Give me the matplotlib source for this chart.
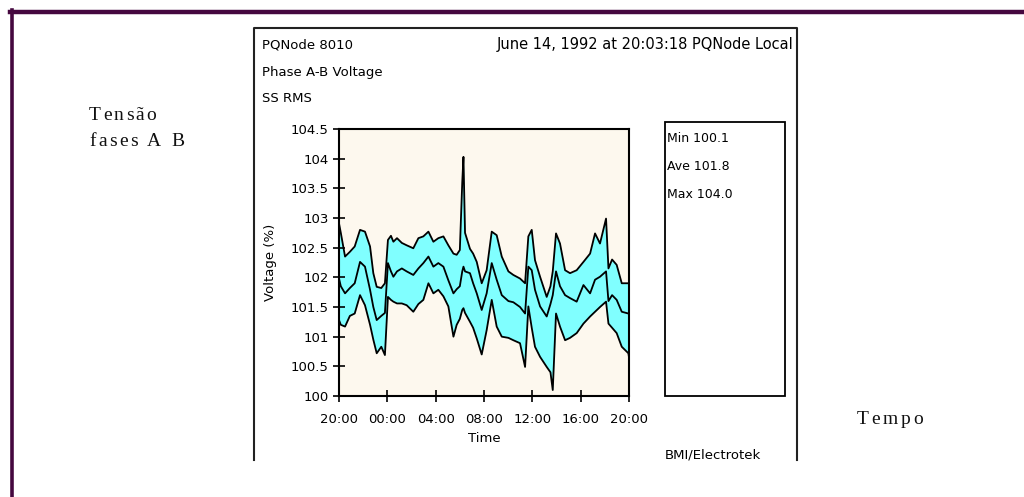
import matplotlib
matplotlib.use("Agg")
import matplotlib.pyplot as plt
from matplotlib.lines import Line2D
from matplotlib.patches import Rectangle
from matplotlib.font_manager import findfont, FontProperties
from matplotlib.ft2font import FT2Font

# ---- data (hours since 20:00, voltage in %) ----
hours = [0.0, 0.15, 0.5, 0.9, 1.3, 1.74, 2.15, 2.57, 2.84, 3.12, 3.5, 3.8,
         4.05, 4.3, 4.5, 4.8, 5.2, 5.6, 6.15, 6.57, 6.98, 7.4, 7.81, 8.22, 8.64,
         9.05, 9.47, 9.74, 10.0, 10.2, 10.3, 10.43, 10.84, 11.1, 11.4, 11.81, 12.22,
         12.64, 13.05, 13.47, 14.02, 14.43, 14.98, 15.4, 15.67, 15.95, 16.22,
         16.64, 17.19, 17.5, 17.69, 17.96, 18.29, 18.71, 19.12, 19.67, 20.23, 20.78,
         21.19, 21.6, 22.1, 22.3, 22.6, 22.98, 23.4, 23.95, 24.0]
v_max = [102.91, 102.75, 102.35, 102.43, 102.52, 102.80, 102.77, 102.52, 102.07,
         101.84, 101.82, 101.90, 102.63, 102.70, 102.60, 102.66, 102.58, 102.54, 102.49,
         102.66, 102.69, 102.77, 102.60, 102.66, 102.69, 102.54, 102.40, 102.38,
         102.46, 103.60, 104.03, 102.75, 102.48, 102.40, 102.26, 101.90, 102.12, 102.77,
         102.71, 102.35, 102.10, 102.04, 101.98, 101.90, 102.69, 102.80, 102.29,
         102.01, 101.67, 101.85, 102.10, 102.74, 102.57, 102.12, 102.07, 102.12, 102.26,
         102.40, 102.74, 102.57, 102.99, 102.15, 102.30, 102.21, 101.90, 101.90, 101.90]
v_ave = [101.98, 101.85, 101.73, 101.82, 101.90, 102.26, 102.18, 101.79, 101.50,
         101.28, 101.35, 101.40, 102.24, 102.10, 102.01, 102.10, 102.15, 102.10, 102.04,
         102.15, 102.24, 102.35, 102.18, 102.24, 102.18, 101.95, 101.73, 101.80,
         101.85, 102.10, 102.18, 102.10, 102.07, 101.90, 101.73, 101.45, 101.73, 102.24,
         101.96, 101.70, 101.60, 101.58, 101.50, 101.39, 102.18, 102.12, 101.79,
         101.51, 101.34, 101.55, 101.70, 102.10, 101.85, 101.70, 101.65, 101.59, 101.87,
         101.73, 101.96, 102.01, 102.10, 101.60, 101.70, 101.62, 101.42, 101.39, 101.39]
v_min = [101.28, 101.20, 101.17, 101.35, 101.39, 101.70, 101.53, 101.20, 100.95,
         100.72, 100.83, 100.69, 101.67, 101.62, 101.59, 101.56, 101.56, 101.53, 101.42,
         101.55, 101.62, 101.90, 101.73, 101.79, 101.68, 101.51, 101.00, 101.20,
         101.30, 101.45, 101.48, 101.40, 101.25, 101.15, 100.97, 100.70, 101.11, 101.62,
         101.17, 101.00, 100.98, 100.94, 100.89, 100.49, 101.51, 101.15, 100.83,
         100.66, 100.49, 100.40, 100.10, 101.39, 101.17, 100.94, 100.98, 101.06, 101.22,
         101.34, 101.42, 101.50, 101.59, 101.22, 101.15, 101.06, 100.83, 100.72, 100.65]

x_ticks = [0, 4, 8, 12, 16, 20, 24]
x_labels = ["20:00", "00:00", "04:00", "08:00", "12:00", "16:00", "20:00"]
y_ticks = [100, 100.5, 101, 101.5, 102, 102.5, 103, 103.5, 104, 104.5]
y_labels = ["100", "100.5", "101", "101.5", "102", "102.5", "103", "103.5", "104", "104.5"]
stats = ["Min 100.1", "Ave 101.8", "Max 104.0"]

W, H = 1024, 497
DPI = 100
fig = plt.figure(figsize=(W / DPI, H / DPI), dpi=DPI)
fig.patch.set_facecolor("white")


def fx(px):
    return px / W


def fy(py):
    return 1 - py / H


def advances(s, family, size):
    font = FT2Font(findfont(FontProperties(family=family)))
    font.set_size(size, DPI)
    return [font.load_char(ord(ch)).linearHoriAdvance / 65536.0 for ch in s]


def tracked_text(x_px, y_px, s, track_px, family, size, ha="left", **kw):
    """Draw text letter by letter with extra letter spacing (pixel coords)."""
    adv = advances(s, family, size)
    total = sum(adv) + track_px * (len(s) - 1)
    x = x_px - total if ha == "right" else x_px
    for ch, a in zip(s, adv):
        if ch != " ":
            fig.text(fx(x), fy(y_px), ch, ha="left", va="center",
                     family=family, fontsize=size, **kw)
        x += a + track_px


# outer slide frame (top and left)
fig.add_artist(Line2D([fx(10), fx(1024)], [fy(12), fy(12)], color="#45083f", lw=3.2))
fig.add_artist(Line2D([fx(11.5), fx(11.5)], [fy(10), fy(497)], color="#45083f", lw=2.6))

# inner picture frame
fig.add_artist(Line2D([fx(254), fx(254), fx(797), fx(797)],
                      [fy(460), fy(28), fy(28), fy(460)], color="#222222", lw=1.5))

# plot axes
ax = fig.add_axes([fx(339), fy(396), fx(629) - fx(339), fy(129) - fy(396)])
ax.set_facecolor("#fdf8ee")
ax.fill_between(hours, v_min, v_max, color="#80ffff", lw=0)
for s in (v_max, v_ave, v_min):
    ax.plot(hours, s, color="black", lw=1.3)
ax.set_xlim(0, 24)
ax.set_ylim(100, 104.5)
ax.set_xticks(x_ticks)
ax.set_xticklabels(x_labels)
ax.set_yticks(y_ticks)
ax.set_yticklabels(y_labels)
ax.tick_params(direction="inout", length=9, width=1.2, labelsize=9.5)
ax.tick_params(axis="x", pad=8)
ax.tick_params(axis="y", pad=3)
for sp in ax.spines.values():
    sp.set_linewidth(1.5)
ax.set_xlabel("Time", fontsize=9.5, labelpad=4)
ax.set_ylabel("Voltage (%)", fontsize=9.5, labelpad=10)

# header texts
fig.text(fx(262), fy(45), "PQNode 8010", fontsize=9.5, va="center", ha="left")
fig.text(fx(793), fy(45), "June 14, 1992 at 20:03:18 PQNode Local", fontsize=10.5,
         va="center", ha="right")
fig.text(fx(262), fy(72), "Phase A-B Voltage", fontsize=9.5, va="center", ha="left")
fig.text(fx(262), fy(98), "SS RMS", fontsize=9.5, va="center", ha="left")

# stats box
fig.add_artist(Rectangle((fx(665), fy(396)), fx(785) - fx(665), fy(122) - fy(396),
                         transform=fig.transFigure, fill=False, ec="black", lw=1.3))
for i, s in enumerate(stats):
    fig.text(fx(667), fy(139 + 28 * i), s, fontsize=9, va="center", ha="left")

fig.text(fx(665), fy(455), "BMI/Electrotek", fontsize=9.5, va="center", ha="left")

# slide annotations
tracked_text(89, 115, "Tensão", 2.2, "Liberation Serif", 14, color="#111111")
tracked_text(89, 141, "fases A B", 2.4, "Liberation Serif", 14, color="#111111")
tracked_text(857, 420, "Tempo", 2.6, "Liberation Serif", 14, color="#111111")

fig.savefig("out.png", dpi=DPI)
